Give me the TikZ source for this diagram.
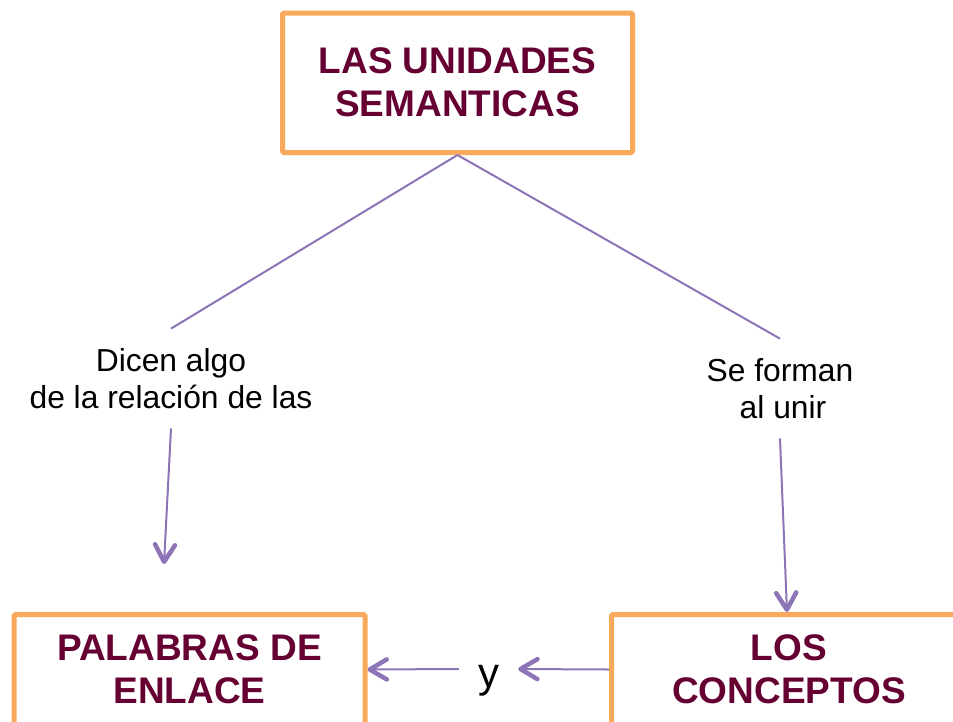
\documentclass[tikz,border=0pt]{standalone}
\usepackage{fontspec}
\setmainfont{Liberation Sans}
\usetikzlibrary{arrows.meta,calc}
\definecolor{boxorange}{HTML}{F9A95B}
\definecolor{maroon}{HTML}{660033}
\definecolor{conpurple}{HTML}{8C74B6}
\tikzset{
  conceptbox/.style={draw=boxorange, line width=5pt, rounded corners=1.5pt, fill=white,
    font=\fontsize{37}{43}\selectfont\bfseries, text=maroon, align=center, inner sep=0pt},
  linklabel/.style={font=\fontsize{31.8}{37}\selectfont, text=black, align=center, inner xsep=0pt, inner ysep=19.5pt},
  conn/.style={draw=conpurple, line width=2pt},
  connarrow/.style={conn, -{Straight Barb[length=17pt,width=20pt,line width'=4.5pt 0,round]}},
}
\begin{document}
\begin{tikzpicture}[x=1pt,y=-1pt]
\useasboundingbox (0,0) rectangle (953,721);
% boxes
\node[conceptbox, minimum width=350pt, minimum height=139.5pt] (top) at (457.5,82.75) {LAS UNIDADES\\SEMANTICAS};
\node[conceptbox, minimum width=351pt, minimum height=110pt] (pal) at (189.5,669.5) {PALABRAS DE\\ENLACE};
\node[conceptbox, minimum width=355pt, minimum height=110pt] (conc) at (789,669.5) {LOS\\CONCEPTOS};
% labels
\node[linklabel] (lblL) at (171,378.5) {Dicen algo\\de la relación de las};
\node[linklabel] (lblR) at (780,388.5) {Se forman\\ \hspace*{6pt}al unir};
\node[font=\fontsize{42}{42}\selectfont, text height=40pt, text depth=4pt, inner xsep=19pt, inner ysep=0pt] (y) at (488.5,669) {y};
\coordinate (palend) at (164,564);
% connectors
\draw[conn] (top.south) -- (lblL.north);
\draw[conn] (top.south) -- (lblR.north);
\draw[connarrow] (lblL.south) -- (palend);
\draw[connarrow] (lblR.south) -- ($(conc.north)+(-2,0)$);
\draw[connarrow] (conc.west) -- (y.east);
\draw[connarrow] (y.west) -- (pal.east);
\end{tikzpicture}
\end{document}
